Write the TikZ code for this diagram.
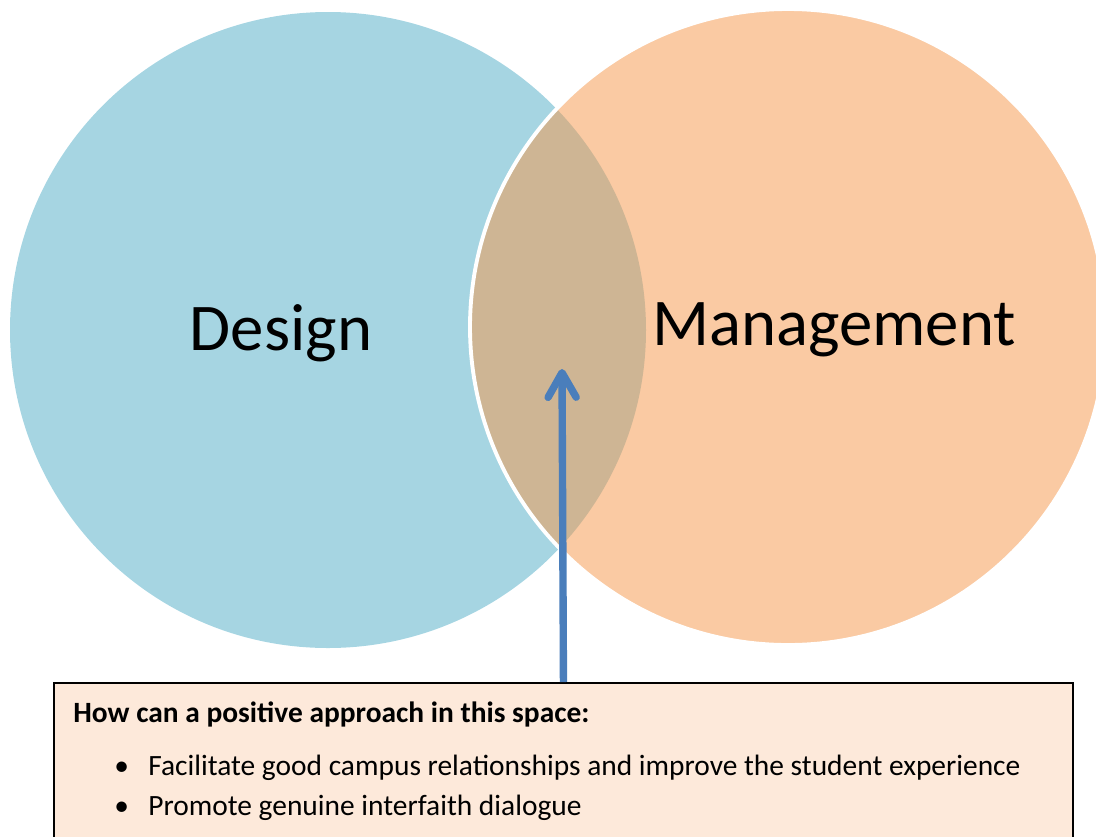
\documentclass[tikz,border=0pt]{standalone}
\usepackage{fontspec}
\setmainfont{Carlito}
\usetikzlibrary{arrows.meta}

\definecolor{designblue}{HTML}{A6D5E2}
\definecolor{mgmtorange}{HTML}{FACAA3}
\definecolor{overlapbrown}{HTML}{CEB594}
\definecolor{panelfill}{HTML}{FDE9DA}
\definecolor{arrowblue}{HTML}{4A7EBB}

\begin{document}
\begin{tikzpicture}[x=0.02cm,y=-0.02cm,
    bigword/.style={font=\fontsize{38}{46}\selectfont, anchor=base},
    itemtext/.style={font=\fontsize{16.75}{20}\selectfont, anchor=base west, inner sep=0pt}]

        \useasboundingbox (0,0) rectangle (1096,836);
        \clip (0,0) rectangle (1096,836);

        % the two sets
        \coordinate (dc) at (328,330);
        \coordinate (mc) at (788,327);
        \fill[designblue] (dc) circle (318);
        \fill[mgmtorange] (mc) circle (318);
        \begin{scope}
          \clip (dc) circle (318);
          \fill[overlapbrown] (mc) circle (318);
        \end{scope}
        \draw[white, line width=2.2pt] (mc) circle (318);

        \node[bigword] (design) at (281,350) {Design};
        \node[bigword] (mgmt)   at (834,345) {Management};

        % question panel
        \node[draw=black, fill=panelfill, line width=1.2pt, anchor=north west,
              minimum width=20.38cm, minimum height=4cm] (panel) at (53,682) {};

        \node[itemtext, font=\fontsize{16.75}{20}\selectfont\bfseries] (head) at (73,722)
          {How can a positive approach in this space:};
        \node[itemtext] (item1) at (148,775)
          {Facilitate good campus relationships and improve the student experience};
        \node[itemtext] (item2) at (148,815)
          {Promote genuine interfaith dialogue};
        \foreach \y/\n in {775/1,815/2}
          \node[itemtext] (dot\n) at (114,\y) {\textbullet};

        % arrow into the overlap
        \coordinate (target) at (562,369);
        \draw[arrowblue, line width=4.2pt, -{Straight Barb[round, length=14pt, width=16pt]}]
          (panel.north) -- (target);

\end{tikzpicture}
\end{document}
